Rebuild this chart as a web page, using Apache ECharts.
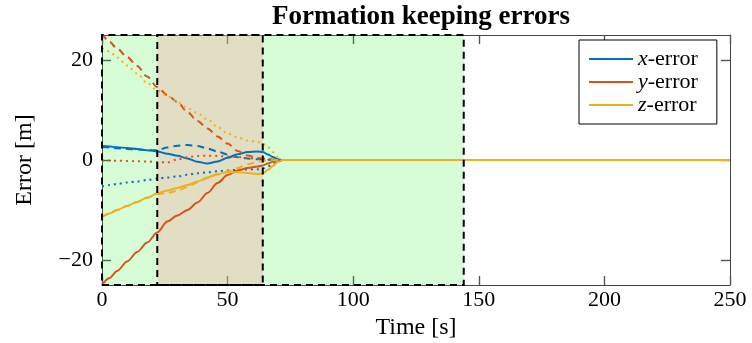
<!DOCTYPE html>
<html><head><meta charset="utf-8">
<script src="https://cdn.jsdelivr.net/npm/echarts@6/dist/echarts.min.js"></script>
<style>html,body{margin:0;padding:0;background:#fff}#c{width:752px;height:343px}</style>
</head><body><div id="c"></div>
<script>
// ---- data ----
const times  = [0, 3, 6, 10, 14, 18, 22, 26, 30, 34, 38, 42, 46, 50, 54, 58, 62, 64, 66, 68, 70, 72, 76, 90, 250];
const xSolid = [2.8, 2.7, 2.55, 2.4, 2.2, 1.95, 1.7, 1.25, 0.85, 0.3, -0.35, -0.7, -0.3, 0.45, 1.15, 1.6, 1.7, 1.6, 1.1, 0.6, 0.15, 0, 0, 0, 0];
const xDash  = [2.6, 2.5, 2.35, 2.2, 2.1, 2.0, 1.95, 2.5, 2.85, 3.0, 2.8, 2.3, 1.7, 1.1, 0.55, 0.3, 0.15, 0.1, 0.05, 0.02, 0, 0, 0, 0, 0];
const xDot   = [-5.3, -5.0, -4.8, -4.5, -4.3, -4.0, -3.7, -3.5, -3.3, -2.95, -2.65, -2.45, -2.25, -2.1, -1.95, -1.9, -1.85, -1.7, -1.3, -0.8, -0.3, 0, 0, 0, 0];
const ySolid = [-25, -23.6, -22.2, -20.3, -18.4, -16.5, -14.5, -12.3, -11.1, -10.0, -8.5, -6.6, -4.6, -3.0, -2.1, -1.6, -1.3, -1.1, -0.7, -0.35, -0.1, 0, 0, 0, 0];
const yDash  = [25.3, 23.6, 22.3, 20.6, 18.8, 16.7, 14.6, 13.0, 11.6, 9.6, 7.8, 6.3, 4.7, 3.3, 1.8, 0.9, 0.4, 0.3, 0.2, 0.1, 0.03, 0, 0, 0, 0];
const yDot   = [-0.1, -0.1, -0.15, -0.2, -0.25, -0.3, -0.4, -0.5, 0.1, 0.55, 0.8, 0.85, 0.8, 0.7, 0.6, 0.4, 0.3, 0.25, 0.2, 0.1, 0.03, 0, 0, 0, 0];
const zSolid = [-11.4, -10.7, -10.0, -9.2, -8.4, -7.5, -6.7, -6.1, -5.6, -5.0, -4.3, -3.5, -2.8, -2.45, -2.45, -2.6, -2.8, -2.7, -2.0, -1.2, -0.4, 0, 0, 0, 0];
const zDash  = [-11.4, -10.7, -10.0, -9.2, -8.4, -7.6, -6.8, -6.6, -6.2, -5.4, -4.5, -3.6, -2.9, -2.3, -1.6, -0.85, -0.35, -0.2, -0.1, -0.05, 0, 0, 0, 0, 0];
const zDot   = [22.4, 21.7, 20.5, 18.9, 17.3, 15.4, 14.0, 12.8, 11.6, 10.4, 9.4, 8.1, 6.6, 5.3, 4.5, 3.9, 3.6, 3.3, 2.6, 1.6, 0.6, 0, 0, 0, 0];
const xTicks = [0, 50, 100, 150, 200, 250];
const yTicks = [-20, 0, 20];
const greenRegion = [0, 144];
const beigeRegion = [22, 64];
const legendNames = ['x-error', 'y-error', 'z-error'];

// ---- chart ----
const COLORS = ['#0072BD', '#D95319', '#EDB120'];
const FONT = 'Liberation Serif';
const pts = arr => times.map((t, i) => [t, arr[i]]);

function curve(name, arr, color, kind) {
  const ls = { color: color, width: 2 };
  if (kind === 'dash') ls.type = [7, 5];
  if (kind === 'dot') { ls.type = [2, 4]; }
  return {
    type: 'line', name: name, data: pts(arr), symbol: 'none', z: 4,
    smooth: 0.3, smoothMonotone: 'x', lineStyle: ls, itemStyle: { color: color },
    silent: true, animation: false
  };
}

const areaFill = (r, color) => [{ xAxis: r[0], yAxis: -25, itemStyle: { color: color } }, { xAxis: r[1], yAxis: 25 }];
const areaBorder = r => [{ xAxis: r[0], yAxis: -25 }, { xAxis: r[1], yAxis: 25 }];

const series = [
  { type: 'line', name: 'fill', data: [], z: 1, silent: true,
    markArea: { silent: true, animation: false, itemStyle: { borderWidth: 0 },
      data: [areaFill(greenRegion, 'rgba(0,245,0,0.16)'), areaFill(beigeRegion, 'rgba(246,175,169,0.4)')] } },
  curve('x-error', xSolid, COLORS[0], 'solid'),
  curve('x-dash', xDash, COLORS[0], 'dash'),
  curve('x-dot', xDot, COLORS[0], 'dot'),
  curve('y-error', ySolid, COLORS[1], 'solid'),
  curve('y-dash', yDash, COLORS[1], 'dash'),
  curve('y-dot', yDot, COLORS[1], 'dot'),
  curve('z-error', zSolid, COLORS[2], 'solid'),
  curve('z-dash', zDash, COLORS[2], 'dash'),
  curve('z-dot', zDot, COLORS[2], 'dot'),
  { type: 'line', name: 'border', data: [], z: 6, silent: true,
    markArea: { silent: true, animation: false, z: 6,
      itemStyle: { color: 'rgba(0,0,0,0)', borderColor: '#000', borderWidth: 2, borderType: [7, 5] },
      data: [areaBorder(greenRegion), areaBorder(beigeRegion)] } }
];

const tickStyle = { show: true, inside: true, length: 9, lineStyle: { color: '#555', width: 1.4 } };
const axisLine = { show: true, onZero: false, lineStyle: { color: '#444', width: 1 } };
const fmtNum = v => (v < 0 ? '\u2212' + Math.abs(v) : String(v));

const option = {
  animation: false,
  backgroundColor: '#fff',
  title: {
    text: 'Formation keeping errors', left: 416, top: -1, textAlign: 'center',
    textStyle: { fontFamily: FONT, fontWeight: 'bold', fontSize: 27, color: '#000' }
  },
  legend: {
    data: legendNames, orient: 'vertical', left: 579, top: 40,
    backgroundColor: '#fff', borderColor: '#000', borderWidth: 1, borderRadius: 0,
    padding: [8, 19, 8, 9], itemGap: 1, itemWidth: 44, itemHeight: 12,
    selectedMode: false,
    itemStyle: { opacity: 0, borderWidth: 0 },
    lineStyle: { width: 2 },
    formatter: n => '{i|' + n[0] + '}{n|' + n.slice(1) + '}',
    textStyle: { fontFamily: FONT, fontSize: 22, lineHeight: 19,
      rich: {
        i: { fontFamily: FONT, fontStyle: 'italic', fontSize: 22, color: '#000', lineHeight: 19 },
        n: { fontFamily: FONT, fontSize: 22, color: '#000', lineHeight: 19 }
      }
    }
  },
  grid: { left: 102, right: 22, top: 35, bottom: 58, outerBoundsMode: 'none', containLabel: false },
  xAxis: [
    { type: 'value', min: xTicks[0], max: xTicks[xTicks.length - 1], interval: xTicks[1] - xTicks[0],
      name: 'Time [s]', nameLocation: 'middle', nameGap: 30,
      nameTextStyle: { fontFamily: FONT, fontSize: 24, color: '#000' },
      axisLine: axisLine, axisTick: tickStyle, splitLine: { show: false },
      axisLabel: { margin: 4, fontFamily: FONT, fontSize: 22, color: '#000', formatter: fmtNum } },
    { type: 'value', min: xTicks[0], max: xTicks[xTicks.length - 1], interval: xTicks[1] - xTicks[0], position: 'top',
      axisLine: axisLine, axisTick: tickStyle, splitLine: { show: false }, axisLabel: { show: false } }
  ],
  yAxis: [
    { type: 'value', min: -25, max: 25,
      name: 'Error [m]', nameLocation: 'middle', nameGap: 65,
      nameTextStyle: { fontFamily: FONT, fontSize: 24, color: '#000' },
      axisLine: axisLine, splitLine: { show: false },
      axisTick: Object.assign({}, tickStyle, { customValues: yTicks }),
      axisLabel: { margin: 9, fontFamily: FONT, fontSize: 22, color: '#000', formatter: fmtNum,
        customValues: yTicks } },
    { type: 'value', min: -25, max: 25, position: 'right',
      axisLine: axisLine, splitLine: { show: false },
      axisTick: Object.assign({}, tickStyle, { customValues: yTicks }),
      axisLabel: { show: false, customValues: yTicks } }
  ],
  series: series
};

const chart = echarts.init(document.getElementById('c'), null, { renderer: 'canvas' });
chart.setOption(option);
</script>
</body></html>
